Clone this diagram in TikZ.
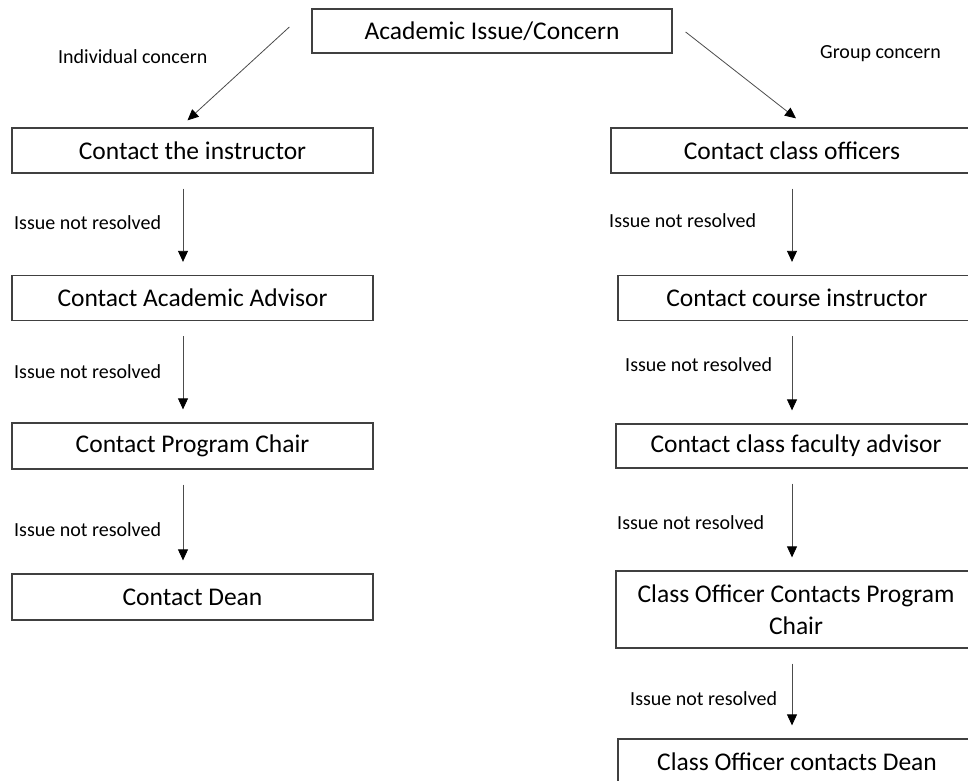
\documentclass[tikz,border=0pt]{standalone}
\usepackage{fontspec}
\setmainfont{Carlito}
\usetikzlibrary{arrows.meta}
\begin{document}
\begin{tikzpicture}[x=1pt,y=-1pt,
  box/.style={draw=black!75, line width=1.3pt, inner sep=0pt, align=center,
    font=\fontsize{25.5}{32}\selectfont, text=black},
  lbl/.style={anchor=west, inner sep=0pt, font=\fontsize{20}{24}\selectfont, text=black},
  arr/.style={draw=black!70, line width=0.8pt, -{Triangle[width=10pt,length=11pt,color=black]}},
  varr/.style={arr, shorten <=15pt, shorten >=13pt}]
\useasboundingbox (0,0) rectangle (968,780);
\clip (0,0) rectangle (968,780);
\fill[white] (0,0) rectangle (968,780);

% top
\node[box, minimum width=360pt, minimum height=44pt] (top) at (492,31) {Academic Issue/Concern};
\node[lbl] (indiv) at (58,57) {Individual concern};
\node[lbl] (group) at (820,54) {Group concern};

% left column
\node[box, minimum width=361pt, minimum height=45pt] (L1) at (192.5,150.5) {Contact the instructor};
\node[box, minimum width=361pt, minimum height=45pt] (L2) at (192.5,298) {Contact Academic Advisor};
\node[box, minimum width=361pt, minimum height=46pt] (L3) at (192.5,446) {Contact Program Chair};
\node[box, minimum width=361pt, minimum height=46pt] (L4) at (192.5,597) {Contact Dean};

% right column
\node[box, minimum width=362pt, minimum height=45pt] (R1) at (792,150.5) {Contact class officers};
\node[box, minimum width=358pt, minimum height=45pt] (R2) at (797,298) {Contact course instructor};
\node[box, minimum width=360pt, minimum height=44pt] (R3) at (796,446) {Contact class faculty advisor};
\node[box, minimum width=360pt, minimum height=77pt] (R4) at (796,609.5) {Class Officer Contacts Program\\Chair};
\node[box, minimum width=358pt, minimum height=45pt] (R5) at (797,761.5) {Class Officer contacts Dean};

% labels
\node[lbl] (l1) at (14,223) {Issue not resolved};
\node[lbl] (l2) at (14,372) {Issue not resolved};
\node[lbl] (l3) at (14,530) {Issue not resolved};
\node[lbl] (r1) at (609,221) {Issue not resolved};
\node[lbl] (r2) at (625,365) {Issue not resolved};
\node[lbl] (r3) at (617,523) {Issue not resolved};
\node[lbl] (r4) at (630,699) {Issue not resolved};

% diagonal arrows
\draw[arr] ([xshift=-22pt,yshift=4pt]top.west) -- ([xshift=-5pt,yshift=7pt]L1.north);
\draw[arr] ([xshift=13pt,yshift=-1pt]top.east) -- ([xshift=4pt,yshift=9pt]R1.north);

% vertical arrows
\draw[varr] ([xshift=-9.5pt]L1.south) -- ([xshift=-9.5pt]L2.north);
\draw[varr] ([xshift=-9.5pt]L2.south) -- ([xshift=-9.5pt]L3.north);
\draw[varr] ([xshift=-9.5pt]L3.south) -- ([xshift=-9.5pt]L4.north);
\draw[varr] (R1.south) -- ([xshift=-5pt]R2.north);
\draw[varr] ([xshift=-5pt]R2.south) -- ([xshift=-4pt]R3.north);
\draw[varr] ([xshift=-4pt]R3.south) -- ([xshift=-4pt]R4.north);
\draw[varr] ([xshift=-4pt]R4.south) -- ([xshift=-5pt]R5.north);
\end{tikzpicture}
\end{document}
